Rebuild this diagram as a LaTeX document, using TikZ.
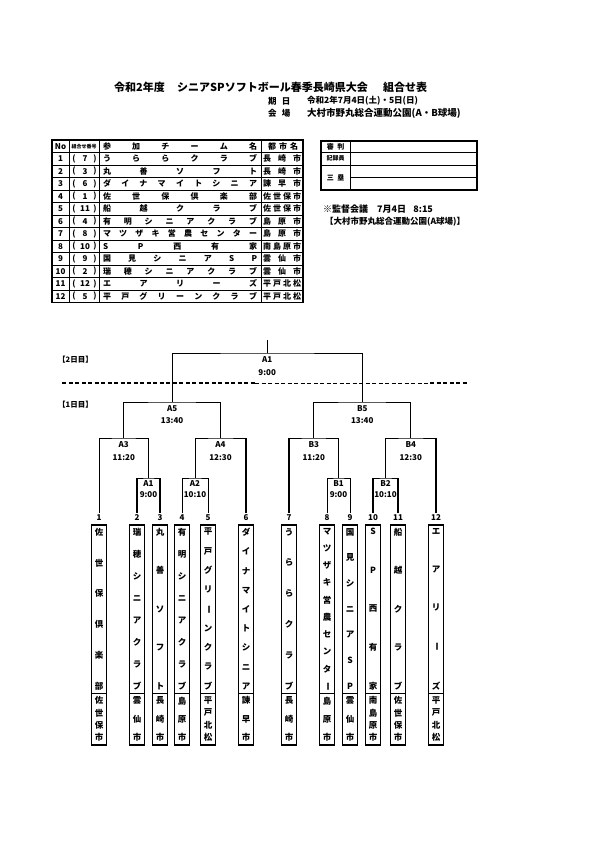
\documentclass[tikz,border=0pt]{standalone}
\usepackage{graphicx}
\usepackage{fontspec}
\setmainfont{Noto Sans CJK JP}
\def\sprFirst#1{#1\sprRest}
\def\sprRest#1{\ifx#1\relax\else\hfill#1\expandafter\sprRest\fi}
\newcommand\spreadH[2]{\makebox[#1]{\expandafter\sprFirst#2\relax}}
\def\vsFirst#1{\hbox to 15pt{\hss#1\hss}\vsRest}
\def\vsRest#1{\ifx#1\relax\else\vfill\hbox to 15pt{\hss#1\hss}\expandafter\vsRest\fi}
\newcommand\vcell[2]{\vbox to #1{\expandafter\vsFirst#2\relax}}
\newcommand\vbar{\rotatebox[origin=c]{-90}{ー}}
\begin{document}
\begin{tikzpicture}[x=1pt,y=-1pt,
  every node/.style={inner sep=0pt, font=\bfseries\fontsize{8}{9}\selectfont},
  tline/.style={line width=0.7pt},
  touter/.style={line width=1.2pt},
  bline/.style={line width=0.9pt},
  bthick/.style={line width=1.8pt},
  teambox/.style={draw, line width=1.6pt, minimum width=15pt, minimum height=220pt},
  teamfont/.style={font=\bfseries\fontsize{8.5}{9}\selectfont},
  mlab/.style={font=\bfseries\fontsize{8}{9}\selectfont},
  titlefont/.style={font=\bfseries\fontsize{11}{12}\selectfont},
  subfont/.style={font=\bfseries\fontsize{8.5}{10}\selectfont},
]
\useasboundingbox (0,0) rectangle (595,842);
\fill[white] (0,0) rectangle (595,842);

% ---------- title ----------
\node[anchor=west, titlefont] (title1) at (114,87) {令和2年度};
\node[anchor=west, titlefont] (title2) at (177,87) {シニアSPソフトボール春季長崎県大会};
\node[anchor=west, titlefont] (title3) at (383,87) {組合せ表};
\node[anchor=west, subfont] (datelab) at (268,101) {期\hspace{0.6em}日};
\node[anchor=west, subfont] (dateval) at (307,101) {令和2年7月4日(土)・5日(日)};
\node[anchor=west, subfont] (venuelab) at (268,113) {会\hspace{0.6em}場};
\node[anchor=west, font=\bfseries\fontsize{9.5}{10}\selectfont] (venueval) at (307,113) {大村市野丸総合運動公園(A・B球場)};

% ---------- team table ----------
\foreach \k in {0,...,11} \draw[tline] (52,{152.5+\k*12.5}) -- (303,{152.5+\k*12.5});
\draw[tline] (69,140) -- (69,302.5);
\draw[tline] (99,140) -- (99,302.5);
\draw[tline] (261,140) -- (261,302.5);
\draw[touter] (52,140) rectangle (303,302.5);
\node (hNo) at (60.5,146.25) {No};
\node[font=\bfseries\fontsize{5}{6}\selectfont] (hBr) at (84,146.25) {組合せ番号};
\node (hTeam) at (180,146.25) {\spreadH{154pt}{参加チーム名}};
\node (hCity) at (283,146.25) {\spreadH{30pt}{都市名}};
\foreach \r/\b/\tm/\ct in {1/7/うららクラブ/長崎市, 2/3/丸善ソフト/長崎市, 3/6/ダイナマイトシニア/諫早市, 4/1/佐世保倶楽部/佐世保市, 5/11/船越クラブ/佐世保市, 6/4/有明シニアクラブ/島原市, 7/8/マツザキ営農センター/島原市, 8/10/SP西有家/南島原市, 9/9/国見シニアSP/雲仙市, 10/2/瑞穂シニアクラブ/雲仙市, 11/12/エアリーズ/平戸北松, 12/5/平戸グリーンクラブ/平戸北松}{
  \pgfmathsetmacro\yc{152.5+(\r-0.5)*12.5}
  \node (no\r) at (60.5,\yc) {\r};
  \node (bo\r) at (74,\yc) {(};
  \node (bn\r) at (85,\yc) {\b};
  \node (bc\r) at (95,\yc) {)};
  \node (tm\r) at (180,\yc) {\spreadH{154pt}{\tm}};
  \node (ct\r) at (282,\yc) {\spreadH{38pt}{\ct}};
}

% ---------- officials box ----------
\draw[tline] (321,152) -- (477,152);
\draw[tline] (321,165) -- (477,165);
\draw[tline] (350,177.5) -- (477,177.5);
\draw[tline] (350,141) -- (350,190);
\draw[touter] (321,141) rectangle (477,190);
\node[font=\bfseries\fontsize{7}{8}\selectfont] (off1) at (335.5,146.5) {審\hspace{0.5em}判};
\node[font=\bfseries\fontsize{6}{7}\selectfont] (off2) at (335.5,158.5) {記録員};
\node[font=\bfseries\fontsize{7}{8}\selectfont] (off3) at (335.5,177.5) {三\hspace{0.5em}塁};
\node[anchor=west, font=\bfseries\fontsize{9}{10}\selectfont] (mtg) at (323,209) {※監督会議\hspace{1em}7月4日\hspace{0.8em}8:15};
\node[anchor=west, font=\bfseries\fontsize{8.5}{10}\selectfont] (mtgv) at (325,222) {【大村市野丸総合運動公園(A球場)】};

% ---------- day labels and separator ----------
\node[anchor=west, font=\bfseries\fontsize{7.5}{8}\selectfont] (day2) at (58,360) {【2日目】};
\node[anchor=west, font=\bfseries\fontsize{7.5}{8}\selectfont] (day1) at (58,405) {【1日目】};
\coordinate (dsA) at (62,383);
\coordinate (dsB) at (255,383);
\coordinate (dsC) at (430,383);
\coordinate (dsD) at (468,383);
\draw[line width=1.3pt, dash pattern=on 4pt off 2.5pt] (dsA) -- (dsB);
\draw[line width=0.7pt, dash pattern=on 4pt off 2.5pt] (dsB) -- (dsC);
\draw[line width=1.3pt, dash pattern=on 4pt off 2.5pt] (dsC) -- (dsD);

% ---------- teams ----------
\foreach \n/\x/\nm/\ct in {1/99/佐世保倶楽部/佐世保市, 2/137/瑞穂シニアクラブ/雲仙市, 3/160/丸善ソフト/長崎市, 4/182/有明シニアクラブ/島原市, 5/208/平戸グリ\vbar ンクラブ/平戸北松, 6/246/ダイナマイトシニア/諫早市, 7/289/うららクラブ/長崎市, 8/327/マツザキ営農センタ\vbar/島原市, 9/350/国見シニアSP/雲仙市, 10/373/SP西有家/南島原市, 11/398/船越クラブ/佐世保市, 12/436/エアリ\vbar ズ/平戸北松}{
  \node[teambox] (T\n) at (\x,635) {};
  \draw[line width=1pt] ({\x-7.5},693) -- ({\x+7.5},693);
  \node[anchor=north, teamfont] (TN\n) at (\x,528) {\vcell{161pt}{\nm}};
  \node[anchor=north, teamfont] (TC\n) at (\x,696.5) {\vcell{44pt}{\ct}};
  \node[mlab] (num\n) at (\x,518) {\n};
  \coordinate (t\n) at (\x,513);
}

% ---------- match points ----------
\coordinate (mA1r) at (148.5,478);
\coordinate (mA2) at (195,478);
\coordinate (mB1) at (338.5,478);
\coordinate (mB2) at (385.5,478);
\coordinate (mA3) at (123.75,438);
\coordinate (mA4) at (220.5,438);
\coordinate (mB3) at (313.75,438);
\coordinate (mB4) at (410.75,438);
\coordinate (mA5) at (172.1,402);
\coordinate (mB5) at (362.25,402);
\coordinate (mF) at (267.2,353);
\coordinate (ftop) at (267.2,340);

% ---------- bracket lines ----------
\draw[bline] (t2) |- (mA1r) -| (t3);
\draw[bline] (t4) |- (mA2) -| (t5);
\draw[bline] (t8) |- (mB1) -| (t9);
\draw[bline] (t10) |- (mB2) -| (t11);
\draw[bline] (t1) |- (mA3) -| (mA1r);
\draw[bline] (mA2) |- (mA4) -| (t6);
\draw[bline] (t7) |- (mB3) -| (mB1);
\draw[bline] (mB2) |- (mB4) -| (t12);
\draw[bline] (mA3) |- (mA5) -| (mA4);
\draw[bline] (mB3) |- (mB5) -| (mB4);
\draw[bline] (mA5) |- (mF) -| (mB5);
\draw[bline] (mF) -- (ftop);
% heavier sides
\draw[bthick] (t2) -- (t2 |- mA1r);
\draw[bthick] (t3) -- (t3 |- mA1r);
\draw[bthick] (t6) -- (t6 |- mA4);
\draw[bthick] (mA4) -- (mA4 |- mA5);
\draw[bthick] (t7) -- (t7 |- mB3);
\draw[bthick] (t10) -- (t10 |- mB2);
\draw[bthick] (t11) -- (t11 |- mB2);
\draw[bthick] (mB2) -- (mB2 |- mB4);
\draw[bthick] (t12) -- (t12 |- mB4);

% ---------- match labels ----------
\node[mlab] (lF) at (267.2,360) {A1};
\node[mlab] (tF) at (267.2,373) {9:00};
\node[mlab] (lA5) at (172.1,409) {A5};
\node[mlab] (tA5) at (172.1,421) {13:40};
\node[mlab] (lB5) at (362.25,409) {B5};
\node[mlab] (tB5) at (362.25,421) {13:40};
\node[mlab] (lA3) at (123.75,445) {A3};
\node[mlab] (tA3) at (123.75,458) {11:20};
\node[mlab] (lA4) at (220.5,445) {A4};
\node[mlab] (tA4) at (220.5,458) {12:30};
\node[mlab] (lB3) at (313.75,445) {B3};
\node[mlab] (tB3) at (313.75,458) {11:20};
\node[mlab] (lB4) at (410.75,445) {B4};
\node[mlab] (tB4) at (410.75,458) {12:30};
\node[mlab] (lA1) at (148.5,484) {A1};
\node[mlab] (tA1) at (148.5,495) {9:00};
\node[mlab] (lA2) at (195,484) {A2};
\node[mlab] (tA2) at (195,495) {10:10};
\node[mlab] (lB1) at (338.5,484) {B1};
\node[mlab] (tB1) at (338.5,495) {9:00};
\node[mlab] (lB2) at (385.5,484) {B2};
\node[mlab] (tB2) at (385.5,495) {10:10};
\end{tikzpicture}
\end{document}
